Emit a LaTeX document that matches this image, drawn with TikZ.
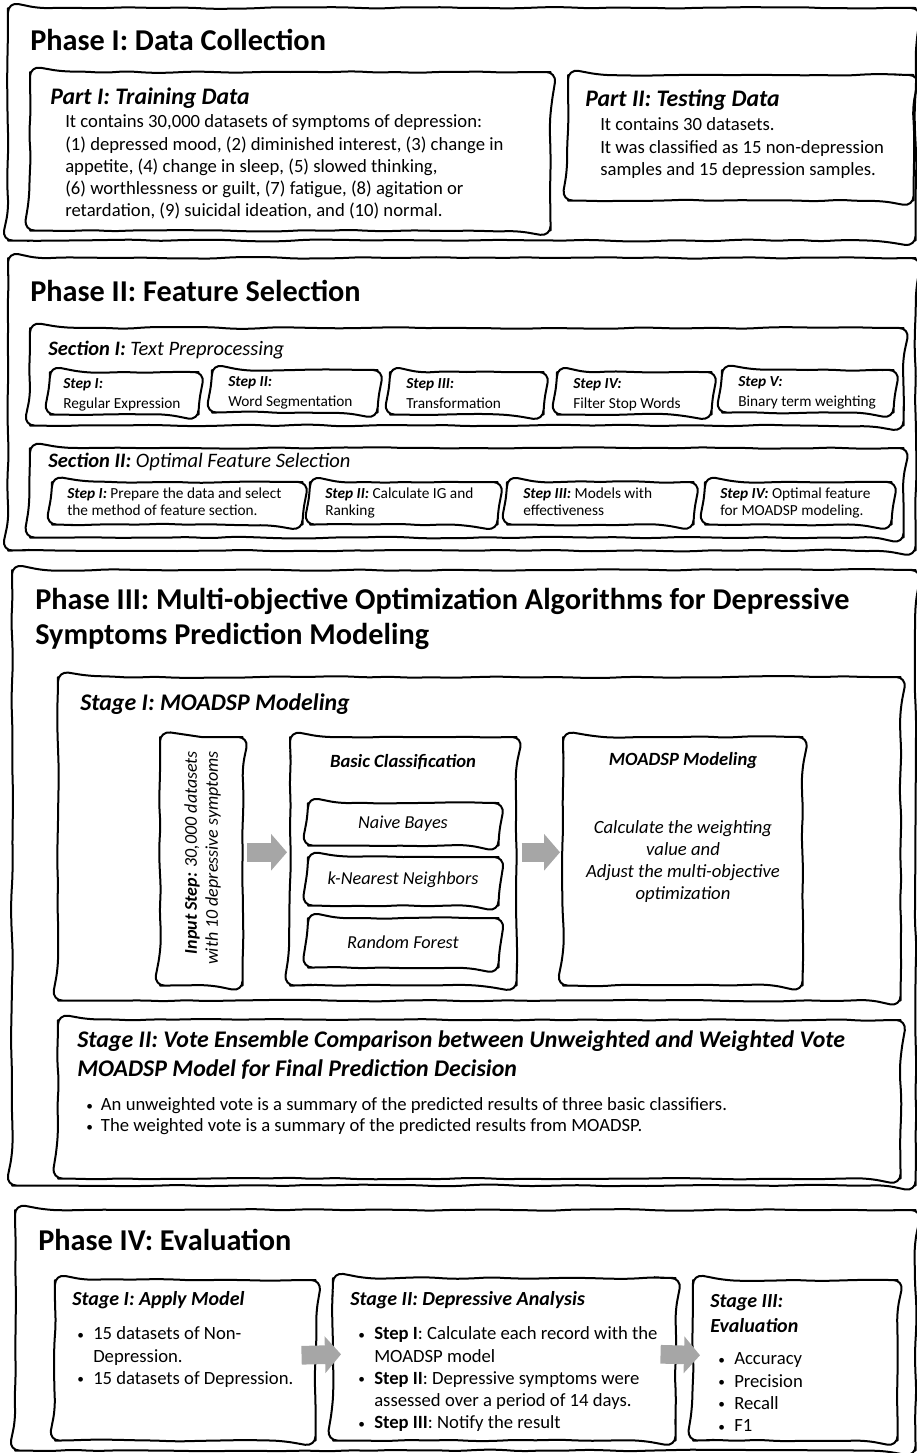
\documentclass[tikz,border=0pt]{standalone}
\usepackage{fontspec}
\setmainfont{Carlito}
\usetikzlibrary{decorations.pathmorphing,arrows.meta,calc}
\newcommand\myfs[2]{\fontsize{#1}{#2}\selectfont}
\newcommand\bul{\makebox[12pt][l]{\raisebox{0.5pt}{\myfs{10}{10}\textbullet}}}
\newcommand\bulsp{\hspace*{12pt}}
\tikzset{
  skd/.style={draw, line width=1.5pt, line join=round, decorate,
    decoration={random steps, segment length=16pt, amplitude=0.75pt},
    rounded corners=8pt},
  bx/.style 2 args={anchor=north west, inner sep=0pt, minimum width=#1*0.75pt, minimum height=#2*0.75pt},
  tx/.style={anchor=west, inner sep=0pt},
  ml/.style={anchor=north west, inner sep=0pt, align=left},
  phase/.style={tx, font=\myfs{22.7}{28}\bfseries},
  ptitle/.style={tx, font=\myfs{17.8}{21}\bfseries\itshape},
  stitle/.style={tx, font=\myfs{15}{18}\bfseries\itshape},
  body/.style={ml, font=\myfs{14}{16.7}},
  steptx/.style={ml, font=\myfs{11.5}{15}},
  steptxb/.style={ml, font=\myfs{11.5}{12.75}},
  blk/.style={line width=14pt, draw={rgb,255:red,166;green,166;blue,166},
    -{Triangle[length=12pt, width=27pt]}},
}
\newcommand\skbox[1]{\draw[skd] (#1.north) -- (#1.north east) -- (#1.south east) -- (#1.south west) -- (#1.north west) -- (#1.north);}
\begin{document}
\begin{tikzpicture}[x=0.75pt, y=-0.75pt]
\pgfmathsetseed{7}
\useasboundingbox (0,0) rectangle (917,1453);

% ---------------- Phase I
\node[bx={907}{232}] (ph1) at (8,8) {};
\node[phase] (ph1t) at (30,40) {Phase I: Data Collection};
\node[bx={520}{158}] (p1) at (30,72) {};
\node[ptitle] (p1t) at (50,98) {Part I: Training Data};
\node[body] (p1b) at (65,112) {\strut It contains 30,000 datasets of symptoms of depression:\\(1) depressed mood, (2) diminished interest, (3) change in\\appetite, (4) change in sleep, (5) slowed thinking,\\(6) worthlessness or guilt, (7) fatigue, (8) agitation or\\retardation, (9) suicidal ideation, and (10) normal.};
\node[bx={345}{125}] (p2) at (568,75) {};
\node[ptitle] (p2t) at (585,100) {Part II: Testing Data};
\node[body] (p2b) at (600,115) {\strut It contains 30 datasets.\\It was classified as 15 non-depression\\samples and 15 depression samples.};

% ---------------- Phase II
\node[bx={907}{292}] (ph2) at (8,258) {};
\node[phase] (ph2t) at (30,291) {Phase II: Feature Selection};
\node[bx={873}{97}] (s1) at (30,328) {};
\node[tx, font=\myfs{15.4}{18}\itshape] (s1t) at (48,350) {\textbf{Section I:} Text Preprocessing};
\node[bx={148}{42}] (a1) at (50,372) {};
\node[steptx] (a1t) at (63,374) {\strut\textbf{\itshape Step I:}\\Regular Expression};
\node[bx={165}{42}] (a2) at (212,370) {};
\node[steptx] (a2t) at (228,372) {\strut\textbf{\itshape Step II:}\\Word Segmentation};
\node[bx={153}{42}] (a3) at (390,372) {};
\node[steptx] (a3t) at (406,374) {\strut\textbf{\itshape Step III:}\\Transformation};
\node[bx={154}{42}] (a4) at (557,372) {};
\node[steptx] (a4t) at (573,374) {\strut\textbf{\itshape Step IV:}\\Filter Stop Words};
\node[bx={171}{42}] (a5) at (722,370) {};
\node[steptx] (a5t) at (738,372) {\strut\textbf{\itshape Step V:}\\Binary term weighting};

\node[bx={873}{89}] (s2) at (30,448) {};
\node[tx, font=\myfs{15.4}{18}\itshape] (s2t) at (48,462) {\textbf{Section II:} Optimal Feature Selection};
\node[bx={250}{42}] (b1) at (52,482) {};
\node[steptxb] (b1t) at (67,486) {\strut\textbf{\itshape Step I:} Prepare the data and select\\the method of feature section.};
\node[bx={187}{42}] (b2) at (310,482) {};
\node[steptxb] (b2t) at (325,486) {\strut\textbf{\itshape Step II:} Calculate IG and\\Ranking};
\node[bx={186}{42}] (b3) at (507,482) {};
\node[steptxb] (b3t) at (523,486) {\strut\textbf{\itshape Step III:} Models with\\effectiveness};
\node[bx={186}{42}] (b4) at (705,482) {};
\node[steptxb] (b4t) at (720,486) {\strut\textbf{\itshape Step IV:} Optimal feature\\for MOADSP modeling.};

% ---------------- Phase III
\node[bx={903}{615}] (ph3) at (12,570) {};
\node[ml, font=\myfs{22.7}{26.25}\bfseries] (ph3t) at (35,585) {\strut Phase III: Multi-objective Optimization Algorithms for Depressive\\Symptoms Prediction Modeling};
\node[bx={842}{323}] (st1) at (58,677) {};
\node[tx, font=\myfs{17.9}{21}\bfseries\itshape] (st1t) at (80,704) {Stage I: MOADSP Modeling};
\node[bx={82}{248}] (inp) at (160,737) {};
\node[rotate=90, align=right, inner sep=0pt, font=\myfs{13.5}{15.75}\itshape] (inpt) at (202.5,858) {\textbf{Input Step:} 30,000 datasets\\with 10 depressive symptoms};
\node[bx={226}{248}] (bc) at (290,737) {};
\node[inner sep=0pt, font=\myfs{14}{16}\bfseries\itshape] (bct) at (403,762) {Basic Classification};
\node[bx={190}{42}] (nb) at (308,803) {};
\node[inner sep=0pt, font=\myfs{13.7}{16}\itshape] (nbt) at (403,824) {Naive Bayes};
\node[bx={190}{48}] (knn) at (308,857) {};
\node[inner sep=0pt, font=\myfs{13.7}{16}\itshape] (knnt) at (403,880) {k-Nearest Neighbors};
\node[bx={190}{49}] (rf) at (308,918) {};
\node[inner sep=0pt, font=\myfs{13.7}{16}\itshape] (rft) at (403,942) {Random Forest};
\node[bx={239}{248}] (md) at (563,737) {};
\node[inner sep=0pt, font=\myfs{14}{16}\bfseries\itshape] (mdt) at (683,761) {MOADSP Modeling};
\node[inner sep=0pt, align=center, font=\myfs{14}{16.5}\itshape] (mdb) at (683,862) {Calculate the weighting\\value and\\Adjust the multi-objective\\optimization};

\node[bx={842}{158}] (st2) at (58,1020) {};
\node[ml, font=\myfs{17.9}{21.75}\bfseries\itshape] (st2t) at (77,1027) {\strut Stage II: Vote Ensemble Comparison between Unweighted and Weighted Vote\\MOADSP Model for Final Prediction Decision};
\node[ml, font=\myfs{14}{15.75}] (st2b) at (86,1096) {\strut\makebox[11pt][l]{\raisebox{0.5pt}{\myfs{10}{10}\textbullet}}An unweighted vote is a summary of the predicted results of three basic classifiers.\\\makebox[11pt][l]{\raisebox{0.5pt}{\myfs{10}{10}\textbullet}}The weighted vote is a summary of the predicted results from MOADSP.};

% ---------------- Phase IV
\node[bx={900}{240}] (ph4) at (15,1210) {};
\node[phase] (ph4t) at (38,1240) {Phase IV: Evaluation};
\node[bx={260}{160}] (e1) at (55,1280) {};
\node[stitle] (e1t) at (72,1300) {Stage I: Apply Model};
\node[body] (e1b) at (77,1324) {\strut\bul 15 datasets of Non-\\\bulsp Depression.\\\bul 15 datasets of Depression.};
\node[bx={342}{162}] (e2) at (333,1278) {};
\node[stitle] (e2t) at (350,1300) {Stage II: Depressive Analysis};
\node[body] (e2b) at (358,1324) {\strut\bul\textbf{Step I}: Calculate each record with the\\\bulsp MOADSP model\\\bul\textbf{Step II}: Depressive symptoms were\\\bulsp assessed over a period of 14 days.\\\bul\textbf{Step III}: Notify the result};
\node[bx={204}{160}] (e3) at (693,1280) {};
\node[ml, font=\myfs{15}{18.75}\bfseries\itshape] (e3t) at (710,1290) {\strut Stage III:\\Evaluation};
\node[body] (e3b) at (718,1349) {\strut\bul Accuracy\\\bul Precision\\\bul Recall\\\bul F1};

% ---------------- sketchy outlines
\foreach \n in {ph1,p1,p2,ph2,s1,a1,a2,a3,a4,a5,s2,b1,b2,b3,b4,ph3,st1,inp,bc,nb,knn,rf,md,st2,ph4,e1,e2,e3}{\skbox{\n}}

% ---------------- block arrows
\draw[blk] ($(inp.east)+(4,-9)$) -- ($(bc.west)+(-3,-9)$);
\draw[blk] ($(bc.east)+(5,-9)$) -- ($(md.west)+(-3,-9)$);
\draw[blk] ($(e1.east)+(-14,-5)$) -- ($(e2.west)+(8,-5)$);
\draw[blk] ($(e2.east)+(-15,-5)$) -- ($(e3.west)+(7,-5)$);
\end{tikzpicture}
\end{document}
